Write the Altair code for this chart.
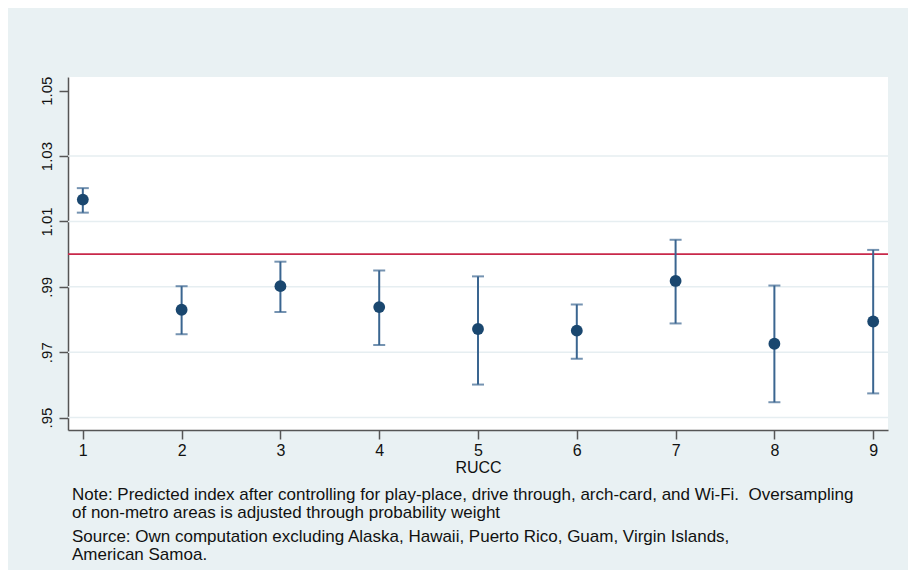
import altair as alt
import pandas as pd

# ---- data ----
rucc = [1, 2, 3, 4, 5, 6, 7, 8, 9]
estimate = [1.0167, 0.9830, 0.9902, 0.9838, 0.9771, 0.9766, 0.9918, 0.9726, 0.9794]
ci_low = [1.0127, 0.9755, 0.9823, 0.9722, 0.9601, 0.9680, 0.9788, 0.9547, 0.9574]
ci_high = [1.0202, 0.9902, 0.9977, 0.9950, 0.9932, 0.9846, 1.0044, 0.9904, 1.0013]
y_ticks = [0.95, 0.97, 0.99, 1.01, 1.03, 1.05]
grid_values = [0.95, 0.97, 0.99, 1.01, 1.03]
reference_value = [1.0]

note_text = ["Note: Predicted index after controlling for play-place, drive through, arch-card, and Wi-Fi.\u00a0 Oversampling",
             "of non-metro areas is adjusted through probability weight"]
source_text = ["Source: Own computation excluding Alaska, Hawaii, Puerto Rico, Guam, Virgin Islands,",
               "American Samoa."]

df = pd.DataFrame({"rucc": rucc, "est": estimate, "lo": ci_low, "hi": ci_high})
grid_df = pd.DataFrame({"g": grid_values})
ref_df = pd.DataFrame({"r": reference_value})

FONT = "Liberation Sans Narrow, Liberation Sans, Arial, sans-serif"
NAVY = "#1a476f"
BAR = "#3a6590"
AXIS_COL = "#555555"

xscale = alt.Scale(domain=[0.85, 9.15], nice=False, zero=False)
yscale = alt.Scale(domain=[0.9462, 1.0542], nice=False, zero=False)

xaxis = alt.Axis(values=rucc, format="d", grid=False, title="RUCC",
                 domainColor=AXIS_COL, domainWidth=1.5, tickColor=AXIS_COL, tickWidth=1.5,
                 tickSize=9, labelPadding=3, labelFontSize=16, labelColor="#111111",
                 labelFont=FONT, titleFont=FONT, titleFontSize=16, titleFontWeight="normal",
                 titleColor="#111111", titlePadding=1)
yaxis = alt.Axis(values=y_ticks, grid=False, title=None,
                 labelExpr="datum.value >= 1 ? format(datum.value, '.2f') : replace(format(datum.value, '.2f'), '0.', '.')",
                 labelAngle=270, labelAlign="center", labelBaseline="bottom",
                 domainColor=AXIS_COL, domainWidth=1.5, tickColor=AXIS_COL, tickWidth=1.5,
                 tickSize=9, labelPadding=5, labelFontSize=15, labelColor="#111111",
                 labelFont=FONT)

grid = alt.Chart(grid_df).mark_rule(color="#e6eef1", strokeWidth=1.5).encode(
    y=alt.Y("g:Q", scale=yscale, axis=yaxis)
)

ref = alt.Chart(ref_df).mark_rule(color="#c8284a", strokeWidth=1.6).encode(
    y=alt.Y("r:Q", scale=yscale)
)

bars = alt.Chart(df).mark_rule(color=BAR, strokeWidth=2).encode(
    x=alt.X("rucc:Q", scale=xscale, axis=xaxis),
    y=alt.Y("lo:Q", scale=yscale),
    y2="hi:Q",
)
cap_hi = alt.Chart(df).mark_tick(color=BAR, orient="horizontal", size=12, thickness=2).encode(
    x=alt.X("rucc:Q", scale=xscale), y=alt.Y("hi:Q", scale=yscale)
)
cap_lo = alt.Chart(df).mark_tick(color=BAR, orient="horizontal", size=12, thickness=2).encode(
    x=alt.X("rucc:Q", scale=xscale), y=alt.Y("lo:Q", scale=yscale)
)
points = alt.Chart(df).mark_circle(color=NAVY, opacity=1, size=140).encode(
    x=alt.X("rucc:Q", scale=xscale), y=alt.Y("est:Q", scale=yscale)
)

note = alt.Chart(ref_df).mark_text(align="left", baseline="middle", font=FONT, fontSize=17,
                                   color="#111111", lineHeight=18).encode(
    x=alt.value(4), y=alt.value(418), text=alt.value(note_text)
)
source = alt.Chart(ref_df).mark_text(align="left", baseline="middle", font=FONT, fontSize=17,
                                     color="#111111", lineHeight=18).encode(
    x=alt.value(4), y=alt.value(460), text=alt.value(source_text)
)

chart = alt.layer(grid, ref, bars, cap_hi, cap_lo, points, note, source).properties(
    width=820, height=353,
    background="#e9f1f3",
    autosize=alt.AutoSizeParams(type="none"),
    padding={"left": 60, "top": 69, "right": 20, "bottom": 140},
).configure_view(fill="white", stroke=None)

chart.save("out.html", embed_options={"renderer": "svg", "actions": False})
